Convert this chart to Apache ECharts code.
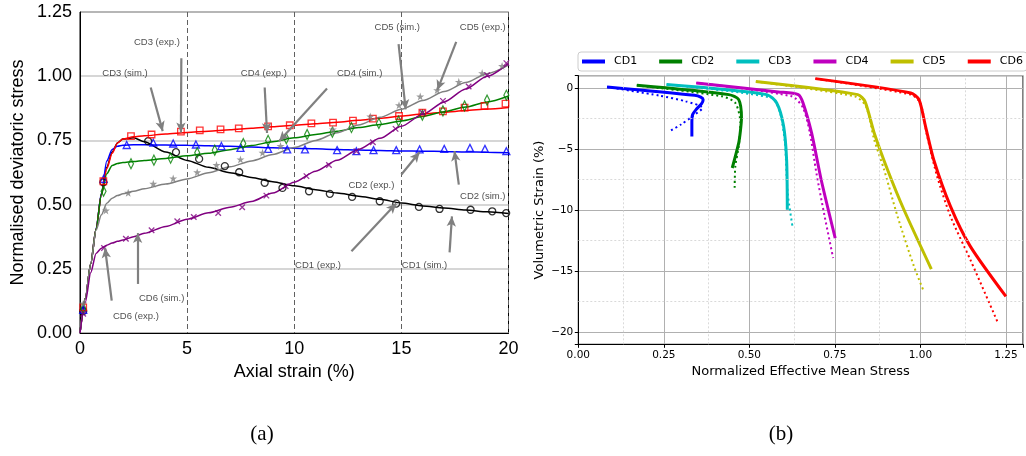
<!DOCTYPE html>
<html>
<head>
<meta charset="UTF-8">
<title>CD tests</title>
<script src="https://cdn.jsdelivr.net/npm/echarts@6/dist/echarts.min.js"></script>
<style>
body{margin:0;background:#fff}
#main{width:1026px;height:456px}
</style>
</head>
<body>
<div id="main"></div>
<script>
// ---- (a) normalised deviatoric stress vs axial strain ----
var simX   = [0,0.25,0.5,0.75,1,1.25,1.5,1.75,2,2.5,3,4,5,6,7,8,9,10,11,12,13,14,15,16,17,18,19,20];
var simCD1 = [0,0.135,0.27,0.405,0.54,0.645,0.705,0.74,0.755,0.76,0.745,0.705,0.672,0.645,0.624,0.606,0.589,0.573,0.558,0.545,0.533,0.521,0.506,0.495,0.487,0.479,0.472,0.465];
var simCD2 = [0,0.135,0.27,0.405,0.545,0.67,0.715,0.727,0.731,0.733,0.733,0.732,0.731,0.729,0.727,0.724,0.721,0.719,0.717,0.715,0.713,0.711,0.709,0.708,0.707,0.705,0.704,0.702];
var simCD3 = [0,0.135,0.27,0.405,0.54,0.64,0.70,0.74,0.755,0.764,0.768,0.775,0.781,0.786,0.791,0.797,0.803,0.809,0.815,0.821,0.828,0.836,0.845,0.853,0.86,0.866,0.872,0.878];
var simCD4 = [0,0.135,0.27,0.405,0.54,0.62,0.652,0.66,0.664,0.668,0.672,0.68,0.69,0.70,0.714,0.73,0.745,0.76,0.773,0.786,0.80,0.812,0.826,0.843,0.862,0.88,0.90,0.923];
var simCD5 = [0,0.135,0.27,0.40,0.46,0.505,0.525,0.535,0.542,0.552,0.562,0.58,0.60,0.624,0.647,0.67,0.695,0.722,0.75,0.78,0.81,0.84,0.871,0.905,0.94,0.975,1.01,1.043];
var simCD6 = [0,0.12,0.235,0.31,0.33,0.342,0.35,0.357,0.362,0.375,0.388,0.415,0.443,0.468,0.49,0.512,0.545,0.587,0.63,0.673,0.715,0.758,0.805,0.852,0.90,0.95,1.0,1.05];

var expCD1 = [[0.15,0.085],[1.09,0.587],[3.18,0.747],[4.48,0.704],[5.56,0.678],[6.76,0.65],[7.43,0.626],[8.62,0.585],[9.45,0.565],[10.69,0.552],[11.66,0.542],[12.7,0.53],[13.99,0.513],[14.76,0.504],[15.82,0.491],[16.78,0.483],[18.23,0.48],[19.24,0.474],[19.89,0.467]];
var expCD2 = [[0.15,0.09],[1.1,0.60],[2.18,0.732],[3.42,0.741],[4.35,0.738],[5.41,0.734],[6.6,0.728],[7.49,0.721],[8.78,0.717],[9.67,0.715],[10.5,0.715],[12.0,0.712],[12.9,0.708],[13.7,0.712],[14.76,0.712],[15.85,0.715],[17.0,0.717],[18.2,0.721],[18.9,0.717],[19.9,0.708]];
var expCD3 = [[0.15,0.10],[1.09,0.591],[2.38,0.767],[3.34,0.773],[4.71,0.784],[5.59,0.789],[6.56,0.793],[7.41,0.797],[8.78,0.805],[9.79,0.809],[10.8,0.816],[11.81,0.819],[12.74,0.827],[13.67,0.835],[14.89,0.845],[15.98,0.858],[16.94,0.863],[17.95,0.878],[18.88,0.884],[19.86,0.893]];
var expCD4 = [[0.15,0.095],[1.1,0.552],[2.38,0.659],[3.45,0.673],[4.23,0.681],[5.47,0.702],[6.29,0.712],[7.62,0.738],[8.78,0.75],[9.63,0.757],[10.6,0.773],[11.78,0.782],[12.67,0.80],[13.95,0.816],[14.87,0.825],[15.98,0.848],[16.94,0.865],[17.95,0.884],[19.0,0.907],[19.9,0.926]];
var expCD5 = [[0.15,0.115],[1.21,0.477],[2.25,0.546],[3.42,0.581],[4.35,0.602],[5.47,0.626],[6.37,0.654],[7.49,0.676],[8.52,0.702],[9.36,0.728],[11.8,0.793],[13.55,0.843],[14.89,0.887],[15.88,0.921],[16.67,0.946],[17.68,0.978],[18.77,1.012],[19.7,1.04]];
var expCD6 = [[0.15,0.075],[1.12,0.331],[2.14,0.367],[3.34,0.40],[4.54,0.435],[5.31,0.452],[6.45,0.467],[7.57,0.49],[8.7,0.535],[9.6,0.572],[10.57,0.611],[11.62,0.654],[12.9,0.708],[13.67,0.743],[14.73,0.795],[15.98,0.858],[16.94,0.904],[18.14,0.96],[19.0,1.004],[19.9,1.051]];

// annotation labels and arrows (data coords of panel a)
var annText   = ['CD3 (exp.)','CD3 (sim.)','CD4 (exp.)','CD4 (sim.)','CD5 (sim.)','CD5 (exp.)','CD2 (exp.)','CD2 (sim.)','CD1 (exp.)','CD1 (sim.)','CD6 (sim.)','CD6 (exp.)'];
var annTextAt = [[3.59,1.133],[2.10,1.012],[8.58,1.012],[13.05,1.012],[14.81,1.191],[18.8,1.191],[13.6,0.574],[18.8,0.532],[11.11,0.262],[16.08,0.262],[3.81,0.136],[2.61,0.066]];
var annArrows = [[4.73,1.070,4.71,0.781],[3.30,0.956,3.86,0.786],[8.62,0.956,8.73,0.779],[11.53,0.952,9.29,0.747],[14.87,1.125,15.20,0.871],[17.56,1.134,16.68,0.946],[15.0,0.617,15.85,0.704],[17.68,0.578,17.48,0.708],[12.67,0.318,14.76,0.504],[17.25,0.314,17.36,0.454],[2.69,0.191,2.69,0.389],[1.48,0.126,1.17,0.331]];

// ---- (b) volumetric strain vs normalized effective mean stress ----
var pCD1 = [[0.084,0.08],[0.34,-0.6],[0.358,-0.75],[0.365,-0.96],[0.36,-1.3],[0.345,-1.75],[0.334,-2.2],[0.332,-2.8],[0.332,-3.97]];
var dCD1 = [[0.084,0.08],[0.237,-0.63],[0.314,-1.1],[0.363,-1.64],[0.334,-2.32],[0.30,-3.0],[0.266,-3.56]];
var pCD2 = [[0.171,0.21],[0.44,-0.55],[0.469,-0.96],[0.477,-2.46],[0.474,-3.5],[0.469,-4.5],[0.45,-6.56]];
var dCD2 = [[0.171,0.21],[0.42,-0.69],[0.459,-1.23],[0.474,-2.87],[0.469,-4.78],[0.459,-6.43],[0.457,-8.39]];
var pCD3 = [[0.258,0.27],[0.551,-0.55],[0.58,-1.23],[0.60,-3.1],[0.609,-5.9],[0.611,-9.98]];
var dCD3 = [[0.258,0.27],[0.566,-0.82],[0.59,-2.05],[0.604,-4.5],[0.612,-8.6],[0.627,-11.5]];
var pCD4 = [[0.345,0.41],[0.585,-0.33],[0.643,-0.55],[0.657,-1.23],[0.682,-3.69],[0.71,-7.52],[0.751,-12.3]];
var dCD4 = [[0.345,0.41],[0.624,-0.69],[0.657,-1.64],[0.677,-3.69],[0.696,-6.97],[0.72,-10.5],[0.745,-13.93]];
var pCD5 = [[0.519,0.52],[0.817,-0.55],[0.838,-1.1],[0.865,-3.69],[0.904,-6.7],[0.952,-9.98],[1.032,-14.84]];
var dCD5 = [[0.519,0.52],[0.807,-0.69],[0.841,-1.5],[0.865,-4.24],[0.894,-6.7],[0.933,-10.5],[0.981,-14.6],[1.01,-16.67]];
var pCD6 = [[0.693,0.76],[0.972,-0.41],[0.996,-0.96],[1.015,-3.15],[1.039,-5.88],[1.088,-9.7],[1.146,-12.98],[1.25,-17.08]];
var dCD6 = [[0.693,0.76],[0.972,-0.55],[1.0,-1.23],[1.02,-3.97],[1.049,-7.25],[1.088,-10.52],[1.146,-14.07],[1.225,-19.13]];

var minorX = [0.125,0.375,0.625,0.875,1.125];
var minorY = [-2.5,-7.5,-12.5,-17.5];

var names = ['CD1','CD2','CD3','CD4','CD5','CD6'];
var colA = ['#000000','#0000ff','#ff0000','#008000','#808080','#800080'];
var colB = ['#0000ff','#008000','#00bfbf','#bf00bf','#bfbf00','#ff0000'];

var STAR = 'path://M5,0L6.18,3.62L10,3.62L6.91,5.86L8.09,9.47L5,7.24L1.91,9.47L3.09,5.86L0,3.62L3.82,3.62Z';
var XMARK = 'path://M0,0L10,10M10,0L0,10';
var THIND = 'path://M5,0L9,10L5,20L1,10Z';

var fA = 'Liberation Sans';
var fB = 'DejaVu Sans';

function minus(s){ return String(s).replace('-', '\u2212'); }

var sims = [simCD1, simCD2, simCD3, simCD4, simCD5, simCD6];
var exps = [expCD1, expCD2, expCD3, expCD4, expCD5, expCD6];
var solids = [pCD1, pCD2, pCD3, pCD4, pCD5, pCD6];
var dots = [dCD1, dCD2, dCD3, dCD4, dCD5, dCD6];
var marks = [
  {symbol:'circle', size:7},
  {symbol:'triangle', size:7},
  {symbol:'rect', size:6.5},
  {symbol:THIND, size:[5,10]},
  {symbol:STAR, size:8},
  {symbol:XMARK, size:5.5}
];

var series = [];

sims.forEach(function(ys, i){
  series.push({
    name: names[i] + ' (sim.)', type:'line', xAxisIndex:0, yAxisIndex:0,
    data: simX.map(function(x, k){ return [x, ys[k]]; }),
    showSymbol:false, smooth:0.25, smoothMonotone:'x',
    lineStyle:{color:colA[i], width:1.5}, itemStyle:{color:colA[i]}, z:2
  });
});

exps.forEach(function(pts, i){
  var filled = (i === 4);
  series.push({
    name: names[i] + ' (exp.)', type:'scatter', xAxisIndex:0, yAxisIndex:0,
    data: pts, symbol: marks[i].symbol, symbolSize: marks[i].size,
    itemStyle: filled ? {color:colA[i]} : {color:'transparent', borderColor:colA[i], borderWidth:1.3},
    z:3
  });
});

series.push({
  name:'annot', type:'scatter', xAxisIndex:0, yAxisIndex:0,
  data: annText.map(function(t, k){ return {name:t, value:annTextAt[k]}; }),
  symbolSize:1, itemStyle:{color:'transparent'},
  label:{show:true, position:'inside', formatter:'{b}', fontFamily:fA, fontSize:9.5, color:'#222'},
  markLine:{
    silent:true, symbol:['none','arrow'], symbolSize:[7,10],
    label:{show:false},
    lineStyle:{color:'#808080', width:2.2, type:'solid'},
    data: annArrows.map(function(a){ return [{coord:[a[0],a[1]]},{coord:[a[2],a[3]]}]; })
  },
  z:4
});

solids.forEach(function(pts, i){
  series.push({
    name: names[i], type:'line', xAxisIndex:1, yAxisIndex:1,
    data: pts, showSymbol:false, smooth:0.25,
    lineStyle:{color:colB[i], width:3}, itemStyle:{color:colB[i]}, z:3
  });
});

dots.forEach(function(pts, i){
  var s = {
    name: names[i] + ' dotted', type:'line', xAxisIndex:1, yAxisIndex:1,
    data: pts, showSymbol:false, smooth:0.25,
    lineStyle:{color:colB[i], width:2, type:[2,3]}, itemStyle:{color:colB[i]}, z:2
  };
  if (i === 0) {
    s.markLine = {
      silent:true, symbol:'none', label:{show:false},
      lineStyle:{color:'#d0d0d0', width:0.8, type:[2,2]},
      data: minorX.map(function(v){ return {xAxis:v}; }).concat(minorY.map(function(v){ return {yAxis:v}; }))
    };
  }
  series.push(s);
});

var chart = echarts.init(document.getElementById('main'));
chart.setOption({
  animation:false,
  backgroundColor:'#fff',
  legend:{
    data:names, left:578, top:52, width:520, itemWidth:23, itemHeight:4, icon:'rect', itemGap:22,
    padding:[4,4,4,4], borderColor:'#cccccc', borderWidth:1, borderRadius:3, backgroundColor:'#fff',
    textStyle:{fontFamily:fB, fontSize:11, color:'#000', padding:[0,0,0,4]}
  },
  grid:[
    {left:80, top:12, width:428.5, height:321, show:true, borderColor:'#000', borderWidth:1, containLabel:false},
    {left:578.3, top:75.7, width:447.4, height:268.6, show:true, borderColor:'#000', borderWidth:1, containLabel:false}
  ],
  xAxis:[
    {gridIndex:0, type:'value', min:0, max:20, interval:5,
      name:'Axial strain (%)', nameLocation:'middle', nameGap:29,
      nameTextStyle:{fontFamily:fA, fontSize:18, color:'#000'},
      axisLine:{onZero:false, lineStyle:{color:'#000'}}, axisTick:{show:false},
      axisLabel:{fontFamily:fA, fontSize:18, color:'#000', margin:7},
      splitLine:{lineStyle:{color:'#606060', type:[5,3], width:1}}},
    {gridIndex:1, type:'value', min:0, max:1.3, interval:0.25,
      name:'Normalized Effective Mean Stress', nameLocation:'middle', nameGap:18,
      nameTextStyle:{fontFamily:fB, fontSize:13, color:'#000'},
      axisLine:{onZero:false, lineStyle:{color:'#000'}},
      axisTick:{show:true, inside:false, length:3.5, lineStyle:{color:'#000'}},
      axisLabel:{fontFamily:fB, fontSize:10.5, color:'#000', margin:5,
        formatter:function(v){ return v > 1.26 ? '' : v.toFixed(2); }},
      splitLine:{lineStyle:{color:'#b0b0b0', width:1}}}
  ],
  yAxis:[
    {gridIndex:0, type:'value', min:0, max:1.25, interval:0.25,
      name:'Normalised deviatoric stress', nameLocation:'middle', nameGap:53,
      nameTextStyle:{fontFamily:fA, fontSize:18, color:'#000'},
      axisLine:{onZero:false, lineStyle:{color:'#000'}}, axisTick:{show:false},
      axisLabel:{fontFamily:fA, fontSize:18, color:'#000', margin:8,
        formatter:function(v){ return v.toFixed(2); }},
      splitLine:{lineStyle:{color:'#c8c8c8', width:1.5}}},
    {gridIndex:1, type:'value', min:-21, max:1, splitNumber:5,
      name:'Volumetric Strain (%)', nameLocation:'middle', nameGap:32,
      nameTextStyle:{fontFamily:fB, fontSize:13, color:'#000'},
      axisLine:{onZero:false, lineStyle:{color:'#000'}},
      axisTick:{show:true, inside:false, length:3.5, lineStyle:{color:'#000'}},
      axisLabel:{fontFamily:fB, fontSize:10.5, color:'#000', margin:5,
        formatter:function(v){ return (Math.round(v) % 5 === 0 && Math.abs(v - Math.round(v)) < 1e-6) ? minus(Math.round(v)) : ''; }},
      splitLine:{lineStyle:{color:'#b0b0b0', width:1}}}
  ],
  graphic:[
    {type:'text', x:262, y:434, style:{text:'(a)', font:'21px "Liberation Serif"', fill:'#000', textAlign:'center', textVerticalAlign:'middle'}},
    {type:'text', x:781, y:434, style:{text:'(b)', font:'21px "Liberation Serif"', fill:'#000', textAlign:'center', textVerticalAlign:'middle'}}
  ],
  series:series
});
</script>
</body>
</html>
